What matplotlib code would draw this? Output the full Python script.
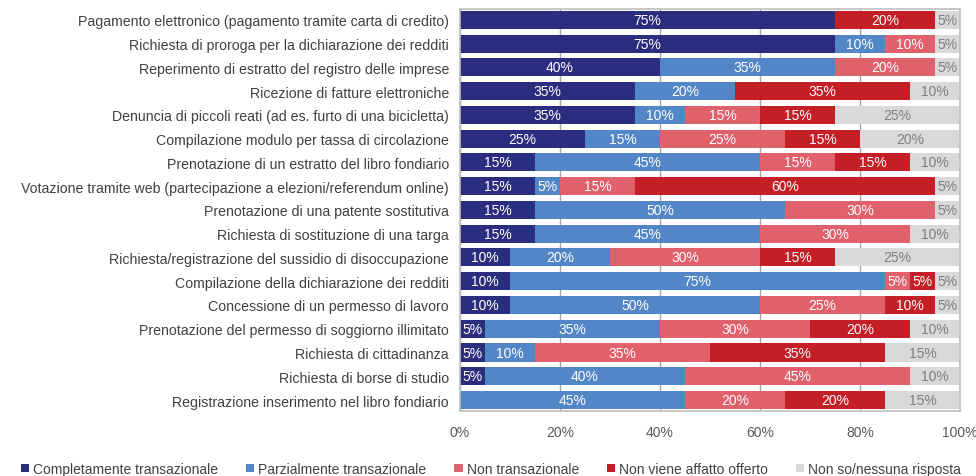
import matplotlib.pyplot as plt
from matplotlib.patches import Patch

plt.rcParams['font.family'] = ['Liberation Sans', 'DejaVu Sans']

categories = [
    "Pagamento elettronico (pagamento tramite carta di credito)",
    "Richiesta di proroga per la dichiarazione dei redditi",
    "Reperimento di estratto del registro delle imprese",
    "Ricezione di fatture elettroniche",
    "Denuncia di piccoli reati (ad es. furto di una bicicletta)",
    "Compilazione modulo per tassa di circolazione",
    "Prenotazione di un estratto del libro fondiario",
    "Votazione tramite web (partecipazione a elezioni/referendum online)",
    "Prenotazione di una patente sostitutiva",
    "Richiesta di sostituzione di una targa",
    "Richiesta/registrazione del sussidio di disoccupazione",
    "Compilazione della dichiarazione dei redditi",
    "Concessione di un permesso di lavoro",
    "Prenotazione del permesso di soggiorno illimitato",
    "Richiesta di cittadinanza",
    "Richiesta di borse di studio",
    "Registrazione inserimento nel libro fondiario",
]

series_names = [
    "Completamente transazionale",
    "Parzialmente transazionale",
    "Non transazionale",
    "Non viene affatto offerto",
    "Non so/nessuna risposta",
]

completamente = [75, 75, 40, 35, 35, 25, 15, 15, 15, 15, 10, 10, 10, 5, 5, 5, 0]
parzialmente = [0, 10, 35, 20, 10, 15, 45, 5, 50, 45, 20, 75, 50, 35, 10, 40, 45]
non_trans = [0, 10, 20, 0, 15, 25, 15, 15, 30, 30, 30, 5, 25, 30, 35, 45, 20]
non_offerto = [20, 0, 0, 35, 15, 15, 15, 60, 0, 0, 15, 5, 10, 20, 35, 0, 20]
non_so = [5, 5, 5, 10, 25, 20, 10, 5, 5, 10, 25, 5, 5, 10, 15, 10, 15]

series = [completamente, parzialmente, non_trans, non_offerto, non_so]
colors = ["#2B2E7E", "#5386C6", "#E0606B", "#C41E26", "#D9D9D9"]
text_colors = ["white", "white", "white", "white", "#7F7F7F"]

fig = plt.figure(figsize=(9.76, 4.77), dpi=100)
ax = fig.add_axes([0.4713, 0.1363, 0.5123, 0.843])

y = list(range(len(categories)))
left = [0] * len(categories)
for vals, col, tcol in zip(series, colors, text_colors):
    ax.barh(y, vals, left=left, height=0.76, color=col, zorder=2)
    for i, v in enumerate(vals):
        if v > 0:
            ax.text(left[i] + v / 2, i, f"{v}%", ha='center', va='center',
                    color=tcol, fontsize=10, zorder=3)
    left = [l + v for l, v in zip(left, vals)]

ax.set_xlim(0, 100)
ax.set_ylim(len(categories) - 0.54, -0.46)
ax.set_yticks(y)
ax.set_yticklabels(categories, fontsize=10.2, color="#404040")
ax.set_xticks([0, 20, 40, 60, 80, 100])
ax.set_xticklabels([f"{t}%" for t in [0, 20, 40, 60, 80, 100]], fontsize=10, color="#595959")
ax.tick_params(axis='both', length=0)
ax.tick_params(axis='y', pad=8)
ax.tick_params(axis='x', pad=10)
ax.xaxis.grid(True, color="#A6A6A6", linewidth=1, zorder=0)
for s in ax.spines.values():
    s.set_color("#BFBFBF")
    s.set_linewidth(1.2)

handles = [Patch(facecolor=c, edgecolor='none') for c in colors]
fig.legend(handles, series_names, loc='center', bbox_to_anchor=(0.503, 0.015), ncol=5,
           frameon=False, fontsize=10, labelcolor="#404040", handlelength=0.6,
           handleheight=0.6, handletextpad=0.3, columnspacing=2.0)

fig.savefig("out.png", dpi=100)
